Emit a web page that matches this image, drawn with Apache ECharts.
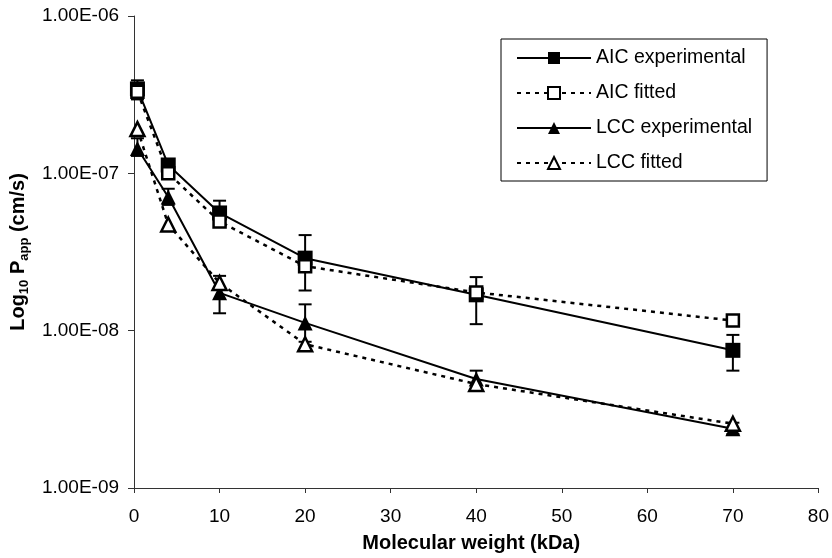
<!DOCTYPE html>
<html>
<head>
<meta charset="utf-8">
<script src="https://cdn.jsdelivr.net/npm/echarts@6/dist/echarts.min.js"></script>
<style>html,body{margin:0;padding:0;background:#fff}#c{width:832px;height:558px}</style>
</head>
<body>
<div id="c"></div>
<script>
// Data
var mw = [0.4, 4, 10, 20, 40, 70];
var aicExp = [3.44e-7, 1.13e-7, 5.6e-8, 2.89e-8, 1.69e-8, 7.5e-9];
var aicExpLow = [2.95e-7, 1.05e-7, 4.7e-8, 1.80e-8, 1.10e-8, 5.57e-9];
var aicExpHigh = [3.9e-7, 1.2e-7, 6.7e-8, 4.05e-8, 2.19e-8, 9.4e-9];
var aicFit = [3.3e-7, 1.0e-7, 4.94e-8, 2.57e-8, 1.75e-8, 1.16e-8];
var lccExp = [1.44e-7, 7.08e-8, 1.74e-8, 1.12e-8, 4.93e-9, 2.38e-9];
var lccExpLow = [1.29e-7, 6.3e-8, 1.29e-8, 8.5e-9, 4.26e-9, 2.2e-9];
var lccExpHigh = [1.67e-7, 7.98e-8, 2.23e-8, 1.47e-8, 5.57e-9, 2.6e-9];
var lccFit = [1.91e-7, 4.73e-8, 2.01e-8, 8.2e-9, 4.58e-9, 2.56e-9];
var seriesNames = ['AIC experimental', 'AIC fitted', 'LCC experimental', 'LCC fitted'];
var xTitle = 'Molecular weight (kDa)';

var FONT = '"Liberation Sans", Arial, sans-serif';

function pairs(xs, ys) { return xs.map(function (x, i) { return [x, ys[i]]; }); }
function errData(xs, lo, hi) { return xs.map(function (x, i) { return [x, lo[i], hi[i]]; }); }

function fmtExp(v) {
  var e = Math.round(Math.log10(v));
  var m = v / Math.pow(10, e);
  var s = e < 0 ? '-' : '+';
  var a = Math.abs(e);
  return m.toFixed(2) + 'E' + s + (a < 10 ? '0' + a : a);
}

function errRender(params, api) {
  var x = api.value(0);
  var top = api.coord([x, api.value(2)]);
  var bot = api.coord([x, api.value(1)]);
  var w = 6.5;
  var st = { stroke: '#000', lineWidth: 2 };
  return {
    type: 'group',
    children: [
      { type: 'line', shape: { x1: top[0], y1: top[1], x2: bot[0], y2: bot[1] }, style: st },
      { type: 'line', shape: { x1: top[0] - w, y1: top[1], x2: top[0] + w, y2: top[1] }, style: st },
      { type: 'line', shape: { x1: bot[0] - w, y1: bot[1], x2: bot[0] + w, y2: bot[1] }, style: st }
    ]
  };
}

var solid = { color: '#000', width: 2, type: 'solid' };
var dotted = { color: '#000', width: 2.5, type: [4, 5] };

var chart = echarts.init(document.getElementById('c'), null, { renderer: 'canvas' });
chart.setOption({
  animation: false,
  backgroundColor: '#fff',
  textStyle: { fontFamily: FONT },
  grid: { left: 133, right: 12, top: 16, bottom: 66, containLabel: false },
  legend: {
    orient: 'vertical',
    left: 501, top: 39,
    padding: [9, 15, 8, 15],
    borderColor: '#000', borderWidth: 1,
    itemWidth: 74, itemHeight: 15, itemGap: 15,
    textStyle: { fontFamily: FONT, fontSize: 19.5, color: '#000', lineHeight: 19 },
    data: seriesNames
  },
  xAxis: {
    type: 'value', min: 0, max: 80, interval: 10,
    name: xTitle, nameLocation: 'middle', nameGap: 45,
    nameTextStyle: { fontFamily: FONT, fontSize: 20, fontWeight: 'bold', color: '#000', padding: [0, 10, 0, 0] },
    axisLine: { lineStyle: { color: '#333', width: 1 } },
    axisTick: { inside: false, length: 5, lineStyle: { color: '#333' } },
    axisLabel: { fontFamily: FONT, fontSize: 19, color: '#000', margin: 19 },
    splitLine: { show: false }
  },
  yAxis: {
    type: 'log', logBase: 10, min: 1e-9, max: 1e-6,
    name: '{a|Log}{s|10}{a| P}{s|app}{a| (cm/s)}',
    nameLocation: 'middle', nameGap: 99, nameRotate: 90,
    nameTextStyle: {
      rich: {
        a: { fontFamily: FONT, fontSize: 20, fontWeight: 'bold', color: '#000', lineHeight: 24, verticalAlign: 'bottom' },
        s: { fontFamily: FONT, fontSize: 13, fontWeight: 'bold', color: '#000', lineHeight: 24, verticalAlign: 'bottom', padding: [0, 0, -3, 0] }
      }
    },
    axisLine: { show: true, lineStyle: { color: '#333', width: 1 } },
    axisTick: { show: true, inside: false, length: 6, lineStyle: { color: '#333' } },
    minorTick: { show: false },
    axisLabel: { fontFamily: FONT, fontSize: 19, color: '#000', margin: 15, formatter: fmtExp },
    splitLine: { show: false }
  },
  series: [
    { type: 'custom', name: 'errAIC', renderItem: errRender, data: errData(mw, aicExpLow, aicExpHigh), encode: { x: 0, y: [1, 2] }, z: 1, silent: true },
    { type: 'custom', name: 'errLCC', renderItem: errRender, data: errData(mw, lccExpLow, lccExpHigh), encode: { x: 0, y: [1, 2] }, z: 1, silent: true },
    { type: 'line', name: seriesNames[0], data: pairs(mw, aicExp), z: 3,
      symbol: 'rect', symbolSize: 15, showAllSymbol: true,
      lineStyle: solid, itemStyle: { color: '#000', borderColor: '#000', borderWidth: 0 } },
    { type: 'line', name: seriesNames[1], data: pairs(mw, aicFit), z: 4,
      symbol: 'rect', symbolSize: 12, showAllSymbol: true,
      lineStyle: dotted, itemStyle: { color: '#fff', borderColor: '#000', borderWidth: 2.5 } },
    { type: 'line', name: seriesNames[2], data: pairs(mw, lccExp), z: 5,
      symbol: 'triangle', symbolSize: 15, showAllSymbol: true,
      lineStyle: solid, itemStyle: { color: '#000', borderColor: '#000', borderWidth: 0 } },
    { type: 'line', name: seriesNames[3], data: pairs(mw, lccFit), z: 6,
      symbol: 'triangle', symbolSize: 14, showAllSymbol: true,
      lineStyle: dotted, itemStyle: { color: '#fff', borderColor: '#000', borderWidth: 2.5 } }
  ]
});
</script>
</body>
</html>
